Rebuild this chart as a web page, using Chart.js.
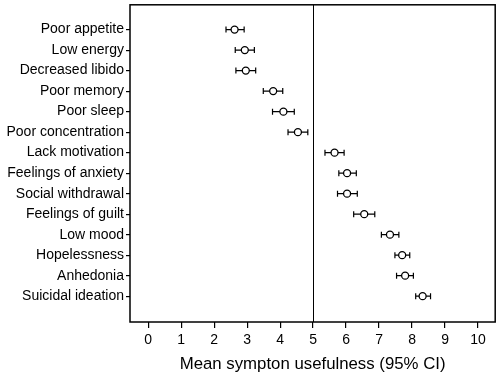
<!DOCTYPE html>
<html><head><meta charset="utf-8">
<script src="https://cdn.jsdelivr.net/npm/chart.js@4"></script>
<style>html,body{margin:0;padding:0;background:#fff}#w{width:500px;height:374px}</style>
</head><body><div id="w"><canvas id="c"></canvas></div>
<script>
const categories = ["Poor appetite","Low energy","Decreased libido","Poor memory","Poor sleep","Poor concentration","Lack motivation","Feelings of anxiety","Social withdrawal","Feelings of guilt","Low mood","Hopelessness","Anhedonia","Suicidal ideation"];
const means = [2.62,2.93,2.96,3.79,4.10,4.54,5.65,6.03,6.03,6.55,7.33,7.70,7.79,8.32];
const lower = [2.36,2.64,2.66,3.49,3.77,4.24,5.36,5.78,5.74,6.23,7.07,7.48,7.53,8.11];
const upper = [2.91,3.22,3.26,4.08,4.43,4.84,5.94,6.31,6.34,6.87,7.60,7.93,8.04,8.56];
const xTicks = [0,1,2,3,4,5,6,7,8,9,10];
const refValue = 5;

const FONT = "'Liberation Sans', Arial, sans-serif";

const plugin = {
  id: 'extras',
  beforeDatasetsDraw(chart) {
    const ctx = chart.ctx, xs = chart.scales.x, ys = chart.scales.y, a = chart.chartArea;
    ctx.save();
    ctx.strokeStyle = '#000';
    ctx.lineWidth = 1;
    const rx = Math.round(xs.getPixelForValue(refValue)) + 0.5;
    ctx.beginPath(); ctx.moveTo(rx, a.top); ctx.lineTo(rx, a.bottom); ctx.stroke();
    ctx.lineWidth = 1.2;
    for (let i = 0; i < means.length; i++) {
      const y = ys.getPixelForValue(i);
      const x1 = xs.getPixelForValue(lower[i]), x2 = xs.getPixelForValue(upper[i]);
      ctx.beginPath();
      ctx.moveTo(x1, y); ctx.lineTo(x2, y);
      ctx.moveTo(x1, y - 3); ctx.lineTo(x1, y + 3);
      ctx.moveTo(x2, y - 3); ctx.lineTo(x2, y + 3);
      ctx.stroke();
    }
    ctx.restore();
  },
  afterDraw(chart) {
    const ctx = chart.ctx, a = chart.chartArea;
    ctx.save();
    ctx.strokeStyle = '#000';
    ctx.lineWidth = 1.5;
    ctx.strokeRect(a.left, a.top, a.right - a.left, a.bottom - a.top);
    ctx.restore();
  }
};

new Chart(document.getElementById('c'), {
  type: 'scatter',
  data: {
    datasets: [{
      data: means.map((m, i) => ({x: m, y: i})),
      pointRadius: 3.5,
      pointBorderWidth: 1.3,
      pointBorderColor: '#000',
      pointBackgroundColor: '#fff',
      pointHoverRadius: 3.5
    }]
  },
  options: {
    responsive: true,
    maintainAspectRatio: false,
    animation: false,
    events: [],
    layout: {padding: {top: 3, right: 4, left: 0, bottom: 0}},
    plugins: {legend: {display: false}, tooltip: {enabled: false}},
    scales: {
      x: {
        type: 'linear', min: -0.55, max: 10.52,
        afterBuildTicks(s) { s.ticks = xTicks.map(v => ({value: v})); },
        grid: {display: true, drawOnChartArea: false, drawTicks: true, tickLength: 6, color: '#000', lineWidth: 1.2},
        border: {display: false},
        ticks: {color: '#000', font: {family: FONT, size: 14}, padding: 4, maxRotation: 0},
        title: {display: true, text: 'Mean sympton usefulness (95% CI)', color: '#000', font: {family: FONT, size: 16.8}, padding: {top: 1, bottom: 0}},
        afterFit(s) { s.height = 52; s.paddingLeft = 0; s.paddingRight = 0; }
      },
      y: {
        type: 'linear', min: -1.21, max: 14.26, reverse: true,
        afterBuildTicks(s) { s.ticks = categories.map((c, i) => ({value: i})); },
        grid: {display: true, drawOnChartArea: false, drawTicks: true, tickLength: 4, color: '#000', lineWidth: 1.2},
        border: {display: false},
        ticks: {color: '#000', font: {family: FONT, size: 14}, padding: 2, callback: (v) => categories[v] ?? ''},
        afterFit(s) { s.width = 130; s.paddingTop = 0; s.paddingBottom = 0; }
      }
    }
  },
  plugins: [plugin]
});
</script>
</body></html>
